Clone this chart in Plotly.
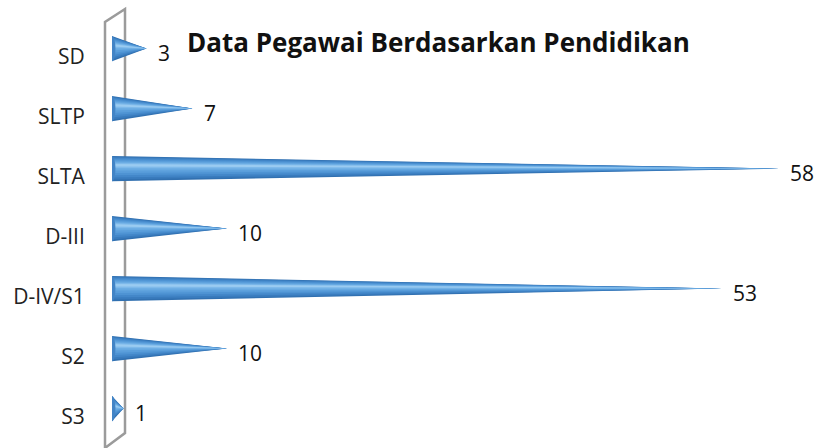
import plotly.graph_objects as go

categories = ["SD", "SLTP", "SLTA", "D-III", "D-IV/S1", "S2", "S3"]
values = [3, 7, 58, 10, 53, 10, 1]
title_text = "Data Pegawai Berdasarkan Pendidikan"

FONT = "Open Sans"
H = 0.21        # cone half-height (category units)
OFF = 0.14      # perspective lift of cones above the label line

fig = go.Figure()

layers = [
    (1.00, 0.00, "#3170b0"),
    (0.90, -0.04, "#397bbd"),
    (0.78, -0.08, "#4387c9"),
    (0.64, -0.12, "#4e93d3"),
    (0.50, -0.16, "#5a9edb"),
    (0.36, -0.20, "#68aae2"),
    (0.22, -0.24, "#7eb9ea"),
    (0.10, -0.27, "#9acbf1"),
]

for i, v in enumerate(values):
    c = i - OFF
    for frac, shift, col in layers:
        hh = H * frac
        cc = c + shift * H
        fig.add_trace(go.Scatter(
            x=[0, v, 0, 0], y=[cc - hh, c, cc + hh, cc - hh],
            mode="lines", fill="toself", fillcolor=col,
            line=dict(width=0, color=col), hoverinfo="skip", showlegend=False))
    # base ellipse
    fig.add_shape(type="circle", xref="x", yref="y",
                  x0=-0.3, x1=0.3, y0=c - H, y1=c + H,
                  fillcolor="#4284c6", line=dict(width=0), layer="above")
    fig.add_annotation(x=v, y=i - 0.07, xref="x", yref="y", text=str(v),
                       showarrow=False, xanchor="left", yanchor="middle", xshift=9,
                       font=dict(family=FONT, size=21, color="#111111"))

# plot area: x 112..802 px, y 27..447 px
def px(xp):
    return (xp - 112) / 690.0

def py(yp):
    return (447 - yp) / 420.0

path = "M {},{} L {},{} L {},{} L {},{} Z".format(
    px(105), py(448), px(105), py(22), px(125), py(9), px(125), py(433))
fig.add_shape(type="path", xref="paper", yref="paper", path=path,
              line=dict(color="#9b9b9b", width=2.5), fillcolor="rgba(0,0,0,0)",
              layer="below")

fig.add_annotation(x=px(185), y=py(42), xref="paper", yref="paper",
                   text="<b>" + title_text + "</b>", showarrow=False,
                   xanchor="left", yanchor="middle",
                   font=dict(family=FONT, size=26, color="#111111"))

fig.update_layout(
    width=819, height=448,
    margin=dict(l=112, r=17, t=27, b=1, autoexpand=False),
    paper_bgcolor="white", plot_bgcolor="white",
    xaxis=dict(range=[0, 60], visible=False, fixedrange=True, automargin=False),
    yaxis=dict(range=[6.5, -0.5], tickmode="array", automargin=False,
               tickvals=list(range(len(categories))), ticktext=categories,
               showgrid=False, zeroline=False, showline=False, fixedrange=True,
               ticks="outside", ticklen=22, tickcolor="rgba(0,0,0,0)",
               tickfont=dict(family=FONT, size=21, color="#222222")),
    showlegend=False,
)

fig.write_html("out.html", config={"displayModeBar": False},
               post_script="document.body.style.margin='0';document.body.style.padding='0';")
